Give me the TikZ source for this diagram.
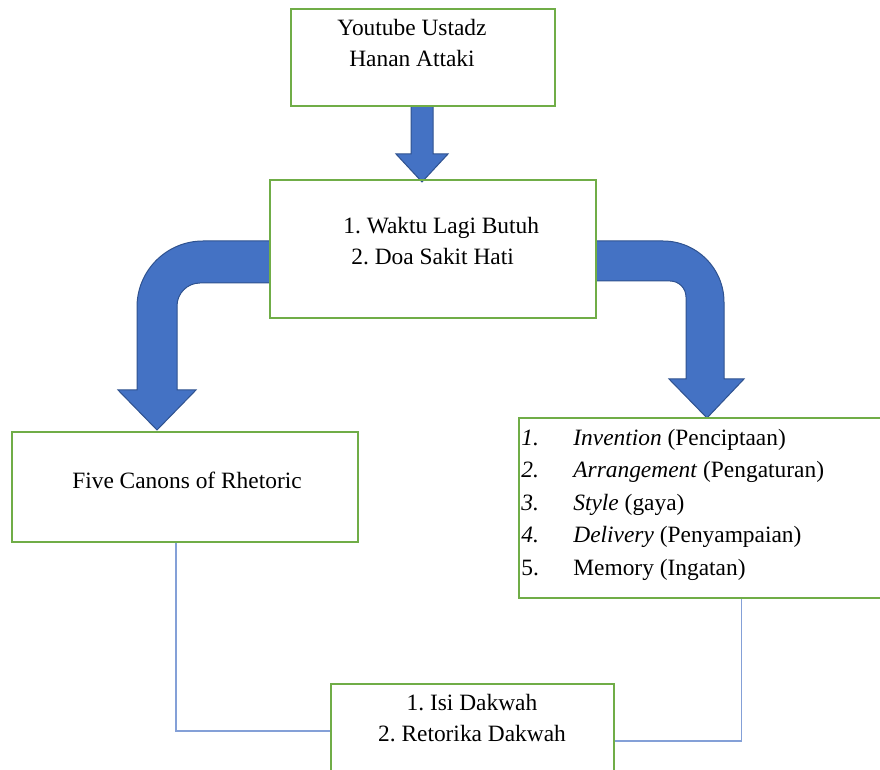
\documentclass[tikz,border=0pt]{standalone}
\usepackage{fontspec}
\setmainfont{Liberation Serif}
\usetikzlibrary{positioning}
\definecolor{boxgreen}{RGB}{112,173,71}
\definecolor{arrowblue}{RGB}{68,114,196}
\definecolor{arrowedge}{RGB}{47,82,143}
\definecolor{linkblue}{RGB}{132,160,215}
\frenchspacing

\begin{document}
\begin{tikzpicture}[x=0.5pt,y=-0.5pt,
    box/.style={draw=boxgreen, line width=0.8pt, rectangle, inner sep=0pt},
    txt/.style={font=\fontsize{11.7}{15.5}\selectfont, align=center, inner sep=0pt},
    listtxt/.style={font=\fontsize{11.7}{16.25}\selectfont, inner sep=0pt, anchor=north west},
    blk/.style={fill=arrowblue, draw=arrowedge, line width=0.5pt},
    link/.style={draw=linkblue, line width=0.6pt}]
    \useasboundingbox (0,0) rectangle (880,770);
    \draw[blk] (411,106) -- (433,106) -- (433,154) -- (448,154) -- (422,182) -- (396,154) -- (411,154) -- cycle;
    \draw[blk] (270,241) -- (203,241) arc[start angle=270, end angle=180, radius=66] -- (137,390) -- (118,390) -- (157,430) -- (196,390) -- (177,390) -- (177,306) arc[start angle=180, end angle=270, radius=23] -- (270,283) -- cycle;
    \draw[blk] (596,241) -- (663,241) arc[start angle=270, end angle=360, radius=61] -- (724,379) -- (744,379) -- (707,418) -- (669,379) -- (686,379) -- (686,297) arc[start angle=0, end angle=-90, radius=16] -- (596,281) -- cycle;
    \node[box, minimum width=132pt, minimum height=48.5pt] (src) at (423,57.5) {};
    \node[txt] (srctext) at (412,43) {Youtube Ustadz\\Hanan Attaki};
    \node[box, minimum width=163pt, minimum height=69pt] (mid) at (433,249) {};
    \node[txt, align=left, anchor=west] (midtext) at (343,241.5) {1. Waktu Lagi Butuh\\\hspace*{4pt}2. Doa Sakit Hati};
    \node[box, minimum width=173pt, minimum height=55pt] (lbox) at (185,487) {};
    \node[txt] (lboxtext) at (187,480) {Five Canons of Rhetoric};
    \node[box, minimum width=182.5pt, minimum height=90pt] (rbox) at (701.5,508) {};
    \node[listtxt] (rboxtext) at (521,422) {\begin{tabular}{@{}p{26pt}@{}l@{}}
      \textit{1.} & \textit{Invention} (Penciptaan)\\
      \textit{2.} & \textit{Arrangement} (Pengaturan)\\
      \textit{3.} & \textit{Style} (gaya)\\
      \textit{4.} & \textit{Delivery} (Penyampaian)\\
      5. & Memory (Ingatan)
    \end{tabular}};
    \node[box, minimum width=141.5pt, minimum height=47pt] (bot) at (472.5,731) {};
    \node[txt] (bottext) at (472,718) {1. Isi Dakwah\\2. Retorika Dakwah};
    \draw[link] ([xshift=-4.5pt]lbox.south) |- (bot.west);
    \draw[link] ([xshift=20pt]rbox.south) |- ([yshift=-5pt]bot.east);
\end{tikzpicture}
\end{document}
